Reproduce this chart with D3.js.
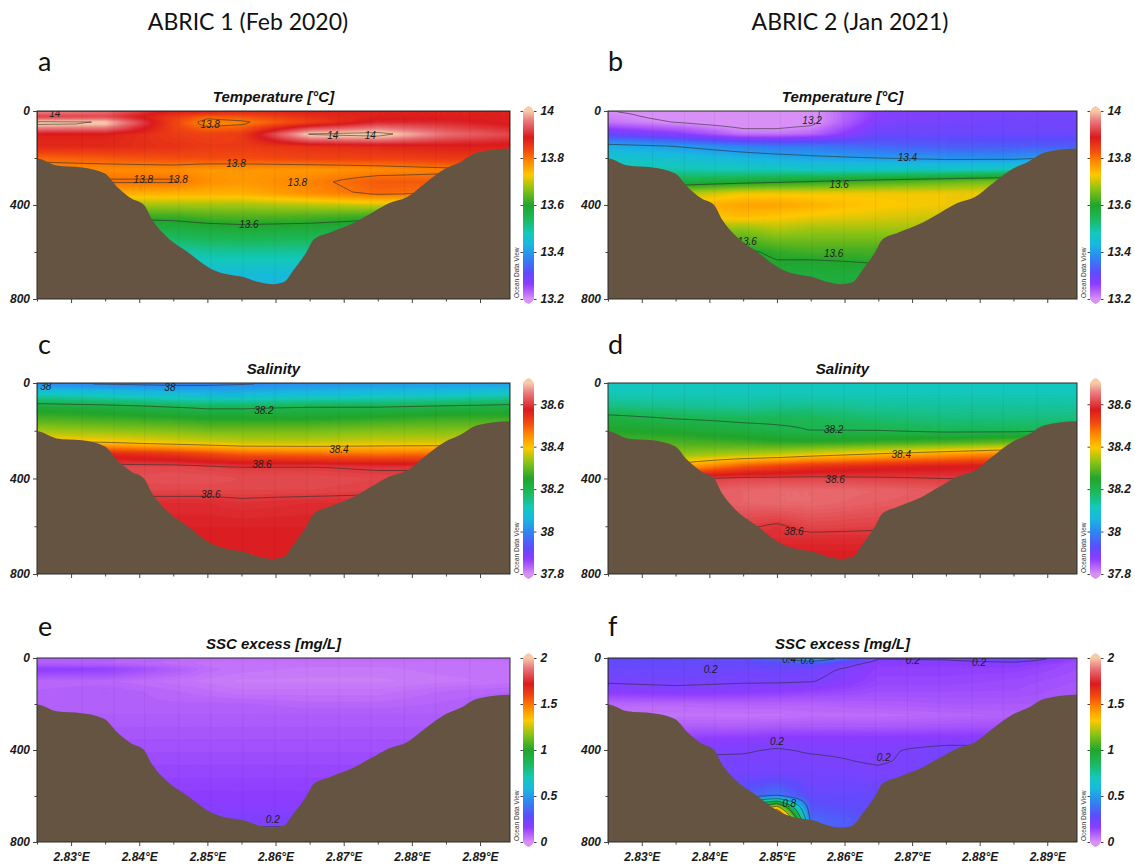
<!DOCTYPE html>
<html>
<head>
<meta charset="utf-8">
<script src="https://cdn.jsdelivr.net/npm/d3@7"></script>
<style>
  body { margin: 0; background: #fff; }
  svg { display: block; }
</style>
</head>
<body>
<svg id="chart" width="1135" height="865"></svg>
<script>
// ---------------------------------------------------------------------------
// Section grid: longitude columns and depth levels (m)
// ---------------------------------------------------------------------------
const lonGrid   = [2.825, 2.835, 2.845, 2.85, 2.855, 2.865, 2.875, 2.885, 2.895];
const depthGrid = [0, 25, 50, 100, 150, 200, 250, 300, 350, 400, 450, 500, 600, 650, 700, 800];

// Temperature [°C], ABRIC 1 (Feb 2020)  rows = depthGrid, columns = lonGrid
const tempFeb2020 = [
  [13.97, 13.95, 13.88, 13.88, 13.87, 13.88, 13.88, 13.88, 13.88],
  [13.91, 13.92, 13.85, 13.81, 13.82, 13.86, 13.88, 13.88, 13.88],
  [14.02, 14.01, 13.84, 13.78, 13.79, 13.84, 13.90, 13.90, 13.88],
  [13.88, 13.88, 13.85, 13.84, 13.85, 14.01, 14.02, 13.95, 13.92],
  [13.87, 13.87, 13.86, 13.85, 13.85, 13.86, 13.87, 13.88, 13.88],
  [13.81, 13.82, 13.83, 13.83, 13.83, 13.84, 13.84, 13.85, 13.85],
  [13.78, 13.78, 13.78, 13.77, 13.77, 13.77, 13.78, 13.79, 13.79],
  [13.795, 13.805, 13.805, 13.78, 13.77, 13.79, 13.82, 13.82, 13.80],
  [13.74, 13.75, 13.75, 13.75, 13.75, 13.78, 13.81, 13.80, 13.78],
  [13.68, 13.68, 13.68, 13.68, 13.68, 13.69, 13.70, 13.70, 13.70],
  [13.61, 13.61, 13.615, 13.625, 13.63, 13.625, 13.61, 13.61, 13.61],
  [13.56, 13.56, 13.57, 13.58, 13.585, 13.58, 13.57, 13.56, 13.56],
  [13.48, 13.48, 13.49, 13.50, 13.50, 13.50, 13.49, 13.48, 13.48],
  [13.46, 13.46, 13.46, 13.47, 13.47, 13.47, 13.46, 13.46, 13.46],
  [13.44, 13.44, 13.44, 13.44, 13.44, 13.44, 13.44, 13.44, 13.44],
  [13.42, 13.42, 13.42, 13.42, 13.42, 13.42, 13.42, 13.42, 13.42]
];

// Temperature [°C], ABRIC 2 (Jan 2021)
const tempJan2021 = [
  [13.20, 13.19, 13.19, 13.19, 13.19, 13.27, 13.28, 13.28, 13.28],
  [13.21, 13.19, 13.18, 13.18, 13.19, 13.27, 13.28, 13.29, 13.29],
  [13.22, 13.20, 13.18, 13.18, 13.19, 13.28, 13.29, 13.29, 13.29],
  [13.30, 13.27, 13.22, 13.22, 13.23, 13.30, 13.30, 13.30, 13.30],
  [13.42, 13.40, 13.37, 13.36, 13.36, 13.34, 13.33, 13.33, 13.33],
  [13.46, 13.45, 13.43, 13.42, 13.41, 13.40, 13.39, 13.39, 13.41],
  [13.50, 13.49, 13.48, 13.48, 13.47, 13.47, 13.47, 13.48, 13.50],
  [13.55, 13.56, 13.58, 13.59, 13.60, 13.62, 13.64, 13.66, 13.68],
  [13.62, 13.68, 13.72, 13.72, 13.72, 13.72, 13.72, 13.72, 13.72],
  [13.70, 13.74, 13.76, 13.76, 13.75, 13.73, 13.72, 13.71, 13.70],
  [13.70, 13.72, 13.74, 13.73, 13.72, 13.71, 13.70, 13.70, 13.70],
  [13.68, 13.68, 13.67, 13.69, 13.68, 13.68, 13.68, 13.68, 13.68],
  [13.60, 13.61, 13.59, 13.61, 13.62, 13.62, 13.63, 13.63, 13.63],
  [13.59, 13.60, 13.58, 13.595, 13.59, 13.60, 13.61, 13.61, 13.61],
  [13.58, 13.58, 13.58, 13.58, 13.58, 13.58, 13.60, 13.60, 13.60],
  [13.57, 13.57, 13.58, 13.57, 13.57, 13.58, 13.60, 13.60, 13.60]
];

// Salinity, ABRIC 1 (Feb 2020)
const salFeb2020 = [
  [38.00, 37.99, 37.98, 37.98, 37.99, 38.01, 38.02, 38.03, 38.03],
  [38.05, 38.04, 38.03, 38.03, 38.03, 38.04, 38.05, 38.05, 38.06],
  [38.12, 38.10, 38.08, 38.07, 38.07, 38.08, 38.09, 38.10, 38.12],
  [38.23, 38.22, 38.20, 38.19, 38.19, 38.20, 38.20, 38.21, 38.22],
  [38.28, 38.27, 38.26, 38.25, 38.25, 38.25, 38.26, 38.27, 38.27],
  [38.34, 38.33, 38.32, 38.31, 38.31, 38.31, 38.32, 38.32, 38.33],
  [38.41, 38.40, 38.38, 38.37, 38.36, 38.36, 38.37, 38.37, 38.38],
  [38.57, 38.56, 38.54, 38.52, 38.50, 38.49, 38.48, 38.49, 38.52],
  [38.61, 38.61, 38.61, 38.605, 38.60, 38.60, 38.595, 38.595, 38.60],
  [38.615, 38.615, 38.62, 38.62, 38.615, 38.615, 38.61, 38.61, 38.61],
  [38.60, 38.61, 38.61, 38.61, 38.61, 38.61, 38.605, 38.60, 38.60],
  [38.59, 38.59, 38.59, 38.59, 38.595, 38.59, 38.59, 38.59, 38.59],
  [38.58, 38.58, 38.58, 38.58, 38.58, 38.58, 38.58, 38.58, 38.58],
  [38.58, 38.58, 38.58, 38.58, 38.58, 38.58, 38.58, 38.58, 38.58],
  [38.58, 38.58, 38.58, 38.58, 38.58, 38.58, 38.58, 38.58, 38.58],
  [38.58, 38.58, 38.58, 38.58, 38.58, 38.58, 38.58, 38.58, 38.58]
];

// Salinity, ABRIC 2 (Jan 2021)
const salJan2021 = [
  [38.11, 38.11, 38.11, 38.11, 38.11, 38.11, 38.11, 38.11, 38.11],
  [38.11, 38.11, 38.11, 38.11, 38.11, 38.11, 38.11, 38.11, 38.11],
  [38.12, 38.12, 38.12, 38.12, 38.12, 38.12, 38.12, 38.12, 38.12],
  [38.16, 38.15, 38.14, 38.15, 38.15, 38.14, 38.14, 38.14, 38.14],
  [38.22, 38.20, 38.19, 38.19, 38.19, 38.17, 38.16, 38.16, 38.16],
  [38.25, 38.24, 38.22, 38.21, 38.20, 38.20, 38.19, 38.19, 38.20],
  [38.28, 38.28, 38.27, 38.26, 38.26, 38.27, 38.28, 38.30, 38.34],
  [38.32, 38.33, 38.35, 38.36, 38.38, 38.41, 38.44, 38.47, 38.50],
  [38.38, 38.42, 38.50, 38.52, 38.54, 38.56, 38.57, 38.58, 38.60],
  [38.58, 38.60, 38.61, 38.61, 38.61, 38.605, 38.60, 38.60, 38.60],
  [38.62, 38.625, 38.635, 38.64, 38.64, 38.635, 38.625, 38.62, 38.62],
  [38.62, 38.625, 38.635, 38.64, 38.64, 38.63, 38.625, 38.62, 38.62],
  [38.60, 38.60, 38.605, 38.595, 38.61, 38.605, 38.60, 38.60, 38.60],
  [38.59, 38.59, 38.59, 38.59, 38.59, 38.59, 38.59, 38.59, 38.59],
  [38.58, 38.58, 38.58, 38.58, 38.58, 38.58, 38.58, 38.58, 38.58],
  [38.58, 38.58, 38.58, 38.58, 38.58, 38.58, 38.58, 38.58, 38.58]
];

// SSC excess [mg/L], ABRIC 1 (Feb 2020)
const sscFeb2020 = [
  [0.08, 0.08, 0.07, 0.06, 0.06, 0.06, 0.06, 0.06, 0.06],
  [0.09, 0.08, 0.06, 0.05, 0.05, 0.05, 0.05, 0.05, 0.05],
  [0.16, 0.15, 0.09, 0.06, 0.05, 0.04, 0.04, 0.05, 0.05],
  [0.07, 0.07, 0.05, 0.04, 0.03, 0.03, 0.03, 0.04, 0.05],
  [0.08, 0.09, 0.07, 0.06, 0.05, 0.05, 0.05, 0.07, 0.08],
  [0.08, 0.08, 0.08, 0.08, 0.08, 0.07, 0.07, 0.08, 0.09],
  [0.09, 0.09, 0.09, 0.09, 0.09, 0.09, 0.09, 0.09, 0.09],
  [0.10, 0.10, 0.10, 0.10, 0.10, 0.10, 0.10, 0.10, 0.10],
  [0.11, 0.11, 0.11, 0.11, 0.11, 0.11, 0.11, 0.11, 0.11],
  [0.12, 0.12, 0.12, 0.12, 0.12, 0.12, 0.12, 0.12, 0.12],
  [0.13, 0.13, 0.13, 0.13, 0.13, 0.13, 0.13, 0.13, 0.13],
  [0.14, 0.14, 0.14, 0.14, 0.14, 0.14, 0.14, 0.14, 0.14],
  [0.16, 0.16, 0.16, 0.16, 0.16, 0.16, 0.16, 0.16, 0.16],
  [0.17, 0.17, 0.17, 0.17, 0.17, 0.17, 0.17, 0.17, 0.17],
  [0.19, 0.19, 0.19, 0.19, 0.19, 0.19, 0.19, 0.19, 0.19],
  [0.22, 0.22, 0.22, 0.22, 0.22, 0.22, 0.22, 0.22, 0.22]
];

// SSC excess [mg/L], ABRIC 2 (Jan 2021)
const sscJan2021 = [
  [0.27, 0.27, 0.29, 0.36, 0.55, 0.21, 0.22, 0.28, 0.14],
  [0.26, 0.26, 0.26, 0.28, 0.30, 0.16, 0.16, 0.17, 0.12],
  [0.25, 0.25, 0.24, 0.24, 0.23, 0.15, 0.15, 0.15, 0.12],
  [0.21, 0.22, 0.21, 0.21, 0.205, 0.14, 0.14, 0.13, 0.11],
  [0.16, 0.17, 0.16, 0.15, 0.14, 0.12, 0.12, 0.12, 0.10],
  [0.07, 0.07, 0.08, 0.08, 0.08, 0.09, 0.10, 0.10, 0.10],
  [0.05, 0.05, 0.05, 0.05, 0.06, 0.06, 0.07, 0.08, 0.09],
  [0.10, 0.09, 0.09, 0.10, 0.10, 0.10, 0.11, 0.12, 0.12],
  [0.15, 0.15, 0.16, 0.17, 0.17, 0.17, 0.17, 0.17, 0.17],
  [0.19, 0.19, 0.195, 0.205, 0.195, 0.19, 0.22, 0.22, 0.19],
  [0.21, 0.21, 0.21, 0.21, 0.21, 0.195, 0.22, 0.22, 0.21],
  [0.23, 0.23, 0.22, 0.22, 0.22, 0.21, 0.22, 0.22, 0.22],
  [0.25, 0.26, 0.32, 0.40, 0.26, 0.26, 0.24, 0.24, 0.24],
  [0.27, 0.28, 0.90, 1.30, 0.30, 0.27, 0.25, 0.25, 0.25],
  [0.28, 0.30, 1.30, 1.90, 0.36, 0.28, 0.26, 0.26, 0.26],
  [0.30, 0.30, 1.30, 1.90, 0.36, 0.30, 0.27, 0.27, 0.27]
];

// Seafloor along the transect (longitude, depth m)
const bottomLon   = [2.8245, 2.8250, 2.8279, 2.8316, 2.8349, 2.8368, 2.8388, 2.8407, 2.8419, 2.8440,
                     2.8470, 2.8507, 2.8529, 2.8554, 2.8575, 2.8596, 2.8612, 2.8627, 2.8645, 2.8656,
                     2.8679, 2.8715, 2.8741, 2.8767, 2.8793, 2.8819, 2.8850, 2.8870, 2.8896, 2.8944, 2.8950];
const bottomDepth = [202, 202, 232, 240, 265, 324, 371, 400, 463, 534,
                     598, 674, 695, 707, 728, 737, 728, 674, 602, 547,
                     518, 476, 434, 392, 366, 308, 244, 219, 177, 160, 160];

// CTD station longitudes
const stationLon = [2.8316, 2.8363, 2.8408, 2.8458, 2.8505, 2.8552, 2.8599, 2.8646,
                    2.8693, 2.8740, 2.8789, 2.8835, 2.8885];

// Axis ticks
const lonTicks      = [2.83, 2.84, 2.85, 2.86, 2.87, 2.88, 2.89];
const lonMinorTicks = [2.825, 2.835, 2.845, 2.855, 2.865, 2.875, 2.885];
const depthTicks      = [0, 400, 800];
const depthMinorTicks = [200, 600];
const tempTicks = [13.2, 13.4, 13.6, 13.8, 14];
const salTicks  = [37.8, 38, 38.2, 38.4, 38.6];
const sscTicks  = [0, 0.5, 1, 1.5, 2];

// Colour-bar ranges
const tempRange = [13.2, 14];
const salRange  = [37.8, 38.7];
const sscRange  = [0, 2];

// Isoline levels
const tempIso = [13.2, 13.4, 13.6, 13.8, 14];
const salIso  = [38, 38.2, 38.4, 38.6];
const sscIso  = [0.2, 0.4, 0.6, 0.8, 1.0, 1.2, 1.4, 1.6, 1.8];

// Isoline labels: [longitude, depth, text]
const tempLabelsFeb2020 = [[2.8276, 12, "14"], [2.8504, 57, "13.8"], [2.8684, 103, "14"], [2.8739, 103, "14"],
                           [2.8542, 222, "13.8"], [2.8406, 292, "13.8"], [2.8457, 292, "13.8"],
                           [2.8632, 305, "13.8"], [2.8561, 484, "13.6"]];
const tempLabelsJan2021 = [[2.8552, 42, "13.2"], [2.8693, 198, "13.4"], [2.8592, 312, "13.6"],
                           [2.8456, 556, "13.6"], [2.8584, 606, "13.6"]];
const salLabelsFeb2020  = [[2.8263, 13, "38"], [2.8445, 17, "38"], [2.8583, 114, "38.2"],
                           [2.8693, 278, "38.4"], [2.8580, 341, "38.6"], [2.8505, 467, "38.6"]];
const salLabelsJan2021  = [[2.8584, 194, "38.2"], [2.8684, 299, "38.4"], [2.8586, 404, "38.6"],
                           [2.8525, 623, "38.6"]];
const sscLabelsFeb2020  = [[2.8596, 700, "0.2"]];
const sscLabelsJan2021  = [[2.8402, 48, "0.2"], [2.8241, 125, "0.2"], [2.8518, 8, "0.4"],
                           [2.8545, 12, "0.6"], [2.8701, 12, "0.2"], [2.8799, 20, "0.2"],
                           [2.8500, 363, "0.2"], [2.8658, 432, "0.2"], [2.8518, 631, "0.8"]];

// ---------------------------------------------------------------------------
// Layout and styling
// ---------------------------------------------------------------------------
const lonDomain = [2.825, 2.8944];
const depthDomain = [0, 800];
const FONT = "'Liberation Sans', Arial, sans-serif";
const HEAD_FONT = "Lato, 'Open Sans', sans-serif";
const BROWN = "#655442";

const columns = [
  { x0: 37,  x1: 510,  cb: 523,  header: "ABRIC 1 (Feb 2020)", headerX: 248, letterX: 38 },
  { x0: 608, x1: 1077, cb: 1090, header: "ABRIC 2 (Jan 2021)", headerX: 850, letterX: 608 }
];
const rows = [
  { y0: 111, y1: 299, letterY: 71 },
  { y0: 383, y1: 574, letterY: 354 },
  { y0: 658, y1: 842, letterY: 636 }
];

// ODV-like rainbow palette
const palettePos = [0, 0.04, 0.08, 0.14, 0.22, 0.29, 0.35, 0.43, 0.50, 0.59, 0.66, 0.73, 0.79, 0.86, 0.95, 1];
const paletteCol = ["#d890f6", "#b462fa", "#8c3cff", "#5e4cfc", "#2f86f2", "#18b8e0", "#14c8bc", "#1cb858",
                    "#22a52c", "#92c414", "#ffc800", "#ff8a00", "#f24a10", "#da1a1e", "#ea7c80", "#f8caa8"];
const ramp = d3.scaleLinear().domain(palettePos).range(paletteCol)
  .interpolate(d3.interpolateRgb).clamp(true);

const panels = [
  { letter: "a", col: 0, row: 0, title: "Temperature [°C]", grid: tempFeb2020, range: tempRange, ticks: tempTicks, iso: tempIso, labels: tempLabelsFeb2020 },
  { letter: "b", col: 1, row: 0, title: "Temperature [°C]", grid: tempJan2021, range: tempRange, ticks: tempTicks, iso: tempIso, labels: tempLabelsJan2021 },
  { letter: "c", col: 0, row: 1, title: "Salinity",          grid: salFeb2020,  range: salRange,  ticks: salTicks,  iso: salIso,  labels: salLabelsFeb2020 },
  { letter: "d", col: 1, row: 1, title: "Salinity",          grid: salJan2021,  range: salRange,  ticks: salTicks,  iso: salIso,  labels: salLabelsJan2021 },
  { letter: "e", col: 0, row: 2, title: "SSC excess [mg/L]", grid: sscFeb2020,  range: sscRange,  ticks: sscTicks,  iso: sscIso,  labels: sscLabelsFeb2020 },
  { letter: "f", col: 1, row: 2, title: "SSC excess [mg/L]", grid: sscJan2021,  range: sscRange,  ticks: sscTicks,  iso: sscIso,  labels: sscLabelsJan2021 }
];

const svg = d3.select("#chart");
const defs = svg.append("defs");

// vertical gradient for colour bars
const grad = defs.append("linearGradient").attr("id", "odvRamp")
  .attr("x1", 0).attr("y1", 1).attr("x2", 0).attr("y2", 0);
grad.selectAll("stop").data(palettePos).join("stop")
  .attr("offset", d => d).attr("stop-color", (d, i) => paletteCol[i]);

// Bilinear sampler over the (lon, depth) grid
function sampler(grid) {
  const clampIdx = (i, n) => Math.max(0, Math.min(n - 2, i));
  return (lon, depth) => {
    const i = clampIdx(d3.bisectRight(lonGrid, lon) - 1, lonGrid.length);
    const j = clampIdx(d3.bisectRight(depthGrid, depth) - 1, depthGrid.length);
    const tx = Math.max(0, Math.min(1, (lon - lonGrid[i]) / (lonGrid[i + 1] - lonGrid[i])));
    const ty = Math.max(0, Math.min(1, (depth - depthGrid[j]) / (depthGrid[j + 1] - depthGrid[j])));
    const a = grid[j][i], b = grid[j][i + 1], c = grid[j + 1][i], d = grid[j + 1][i + 1];
    return a * (1 - tx) * (1 - ty) + b * tx * (1 - ty) + c * (1 - tx) * ty + d * tx * ty;
  };
}

// Column headers
columns.forEach(col => {
  svg.append("text").attr("x", col.headerX).attr("y", 30)
    .attr("text-anchor", "middle").attr("font-family", HEAD_FONT)
    .attr("font-size", 23).attr("fill", "#111").text(col.header);
});

panels.forEach(p => {
  const col = columns[p.col], row = rows[p.row];
  const x = d3.scaleLinear().domain(lonDomain).range([col.x0, col.x1]);
  const y = d3.scaleLinear().domain(depthDomain).range([row.y0, row.y1]);
  const norm = d3.scaleLinear().domain(p.range).range([0, 1]).clamp(true);
  const colorOf = v => ramp(norm(v));

  const g = svg.append("g").attr("class", "panel-" + p.letter);

  // panel letter and title
  g.append("text").attr("x", col.letterX).attr("y", row.letterY)
    .attr("font-family", HEAD_FONT).attr("font-size", 27).attr("fill", "#111").text(p.letter);
  g.append("text").attr("x", (col.x0 + col.x1) / 2).attr("y", row.y0 - 9)
    .attr("text-anchor", "middle").attr("font-family", FONT).attr("font-weight", "bold")
    .attr("font-style", "italic").attr("font-size", 15).attr("fill", "#111").text(p.title);

  const clipId = "clip-" + p.letter;
  defs.append("clipPath").attr("id", clipId).append("rect")
    .attr("x", col.x0).attr("y", row.y0).attr("width", col.x1 - col.x0).attr("height", row.y1 - row.y0);
  const field = g.append("g").attr("clip-path", `url(#${clipId})`);

  // fine field sampled from the section grid
  const W = col.x1 - col.x0, H = row.y1 - row.y0;
  const nx = Math.ceil(W / 2), ny = Math.ceil(H / 2);
  const cw = W / nx, ch = H / ny;
  const sample = sampler(p.grid);
  const values = new Float64Array(nx * ny);
  for (let j = 0; j < ny; j++) {
    const dep = y.invert(row.y0 + (j + 0.5) * ch);
    for (let i = 0; i < nx; i++) {
      values[j * nx + i] = sample(x.invert(col.x0 + (i + 0.5) * cw), dep);
    }
  }
  const toPx = d3.geoTransform({
    point(px, py) { this.stream.point(col.x0 + px * cw, row.y0 + py * ch); }
  });
  const path = d3.geoPath(toPx);

  const lo = d3.min(values), hi = d3.max(values);
  const step = (p.range[1] - p.range[0]) / 180;
  const thr = d3.range(p.range[0], p.range[1] + step / 2, step).filter(t => t > lo && t <= hi);

  field.append("rect").attr("x", col.x0).attr("y", row.y0).attr("width", W).attr("height", H)
    .attr("fill", colorOf(lo));
  const bands = d3.contours().size([nx, ny]).thresholds(thr)(values);
  field.selectAll("path.band").data(bands).join("path").attr("class", "band")
    .attr("d", path)
    .attr("fill", d => colorOf(d.value + step / 2))
    .attr("stroke", d => colorOf(d.value + step / 2))
    .attr("stroke-width", 0.4);

  // faint station lines
  field.selectAll("line.station").data(stationLon).join("line").attr("class", "station")
    .attr("x1", d => x(d)).attr("x2", d => x(d)).attr("y1", row.y0).attr("y2", row.y1)
    .attr("stroke", "#000").attr("stroke-opacity", 0.07).attr("stroke-width", 0.8);

  // isolines
  const isoLevels = p.iso.filter(t => t > lo && t < hi);
  const iso = d3.contours().size([nx, ny]).thresholds(isoLevels)(values);
  field.selectAll("path.iso").data(iso).join("path").attr("class", "iso")
    .attr("d", path).attr("fill", "none")
    .attr("stroke", "#2a2a2a").attr("stroke-opacity", 0.85).attr("stroke-width", 0.7);

  // isoline labels
  field.selectAll("text.isolabel").data(p.labels).join("text").attr("class", "isolabel")
    .attr("x", d => x(d[0])).attr("y", d => y(d[1]))
    .attr("dy", "0.35em").attr("text-anchor", "middle")
    .attr("font-family", FONT).attr("font-style", "italic").attr("font-size", 10)
    .attr("fill", "#1e1e1e").text(d => d[2]);

  // seafloor
  const seabed = d3.area().x(d => x(d[0])).y0(row.y1 + 2).y1(d => y(d[1])).curve(d3.curveMonotoneX);
  field.append("path").datum(d3.zip(bottomLon, bottomDepth)).attr("d", seabed).attr("fill", BROWN);

  // frame
  g.append("rect").attr("x", col.x0).attr("y", row.y0).attr("width", W).attr("height", H)
    .attr("fill", "none").attr("stroke", "#2a2a2a").attr("stroke-width", 1);

  const styleAxis = sel => {
    sel.select(".domain").remove();
    sel.selectAll(".tick line").attr("stroke", "#444");
    sel.selectAll(".tick text").attr("font-family", FONT).attr("font-weight", "bold")
      .attr("font-style", "italic").attr("font-size", 12).attr("fill", "#1a1a1a");
  };

  // x axis
  const showLon = p.row === 2;
  g.append("g").attr("transform", `translate(0,${row.y1})`)
    .call(d3.axisBottom(x).tickValues(lonTicks).tickSize(4).tickPadding(6)
      .tickFormat(d => showLon ? d3.format(".2f")(d) + "°E" : ""))
    .call(styleAxis);
  g.append("g").attr("transform", `translate(0,${row.y1})`)
    .call(d3.axisBottom(x).tickValues(lonMinorTicks).tickSize(2.5).tickFormat(""))
    .call(styleAxis);

  // y axis
  g.append("g").attr("transform", `translate(${col.x0},0)`)
    .call(d3.axisLeft(y).tickValues(depthTicks).tickSize(4).tickPadding(3))
    .call(styleAxis);
  g.append("g").attr("transform", `translate(${col.x0},0)`)
    .call(d3.axisLeft(y).tickValues(depthMinorTicks).tickSize(2.5).tickFormat(""))
    .call(styleAxis);

  // colour bar
  const cbw = 11;
  const cy = d3.scaleLinear().domain(p.range).range([row.y1, row.y0]);
  const cb = g.append("g");
  cb.append("rect").attr("x", col.cb).attr("y", cy(p.range[1])).attr("width", cbw)
    .attr("height", cy(p.range[0]) - cy(p.range[1])).attr("fill", "url(#odvRamp)");
  cb.append("path")
    .attr("d", `M${col.cb},${cy(p.range[1]) + 0.5} Q${col.cb + 1},${cy(p.range[1]) - 3} ${col.cb + cbw / 2},${cy(p.range[1]) - 5} Q${col.cb + cbw - 1},${cy(p.range[1]) - 3} ${col.cb + cbw},${cy(p.range[1]) + 0.5} Z`)
    .attr("fill", ramp(1));
  cb.append("path")
    .attr("d", `M${col.cb},${cy(p.range[0]) - 0.5} Q${col.cb + 1},${cy(p.range[0]) + 3} ${col.cb + cbw / 2},${cy(p.range[0]) + 5} Q${col.cb + cbw - 1},${cy(p.range[0]) + 3} ${col.cb + cbw},${cy(p.range[0]) - 0.5} Z`)
    .attr("fill", ramp(0));
  cb.append("g").attr("transform", `translate(${col.cb + cbw},0)`)
    .call(d3.axisRight(cy).tickValues(p.ticks).tickSize(2.5).tickPadding(4).tickFormat(d3.format("~g")))
    .call(styleAxis);
  cb.append("g").attr("transform", `translate(${col.cb},0)`)
    .call(d3.axisLeft(cy).tickValues(p.ticks).tickSize(2.5).tickFormat(""))
    .call(styleAxis);
  cb.append("text")
    .attr("transform", `translate(${col.cb - 4},${row.y1 - 1}) rotate(-90)`)
    .attr("font-family", FONT).attr("font-size", 6.5).attr("fill", "#333")
    .text("Ocean Data View");
});
</script>
</body>
</html>
